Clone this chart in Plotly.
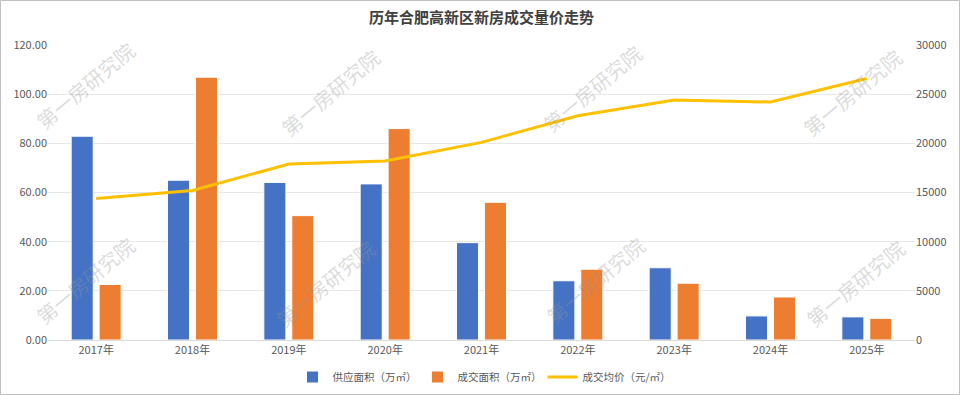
import plotly.graph_objects as go

years = ["2017年", "2018年", "2019年", "2020年", "2021年", "2022年", "2023年", "2024年", "2025年"]
supply = [82.9, 65.0, 64.1, 63.5, 39.6, 24.1, 29.4, 9.8, 9.4]
sold = [22.6, 106.9, 50.6, 86.0, 56.0, 28.8, 23.1, 17.5, 8.8]
price = [14400, 15200, 17900, 18200, 20100, 22800, 24400, 24200, 26600]

left_ticks = [0, 20, 40, 60, 80, 100, 120]
right_ticks = [0, 5000, 10000, 15000, 20000, 25000, 30000]

FONT = "Noto Sans CJK SC, Roboto, Arial, sans-serif"
GREY = "#595959"

L, R, T, B = 48, 45, 45, 55
PW, PH = 960 - L - R, 395 - T - B

def px2paper(px, py):
    return (px - L) / PW, (395 - B - py) / PH

fig = go.Figure()
fig.add_trace(go.Bar(x=years, y=supply, name="供应面积（万㎡）", marker=dict(color="#4472C4", line=dict(color="white", width=1))))
fig.add_trace(go.Bar(x=years, y=sold, name="成交面积（万㎡）", marker=dict(color="#ED7D31", line=dict(color="white", width=1))))
fig.add_trace(go.Scatter(x=years, y=price, name="成交均价（元/㎡）", mode="lines", yaxis="y2",
                         line=dict(color="#FFC000", width=3)))

wm = [(85, 85), (85, 280), (330, 92), (325, 283), (592, 88), (595, 280), (852, 92), (855, 283)]
annos = []
for (px, py) in wm:
    ax, ay = px2paper(px, py)
    annos.append(dict(text="第一房研究院", x=ax, y=ay, xref="paper", yref="paper",
                      showarrow=False, textangle=-40, font=dict(size=20, color="rgba(150,150,150,0.35)", family=FONT),
                      xanchor="center", yanchor="middle"))

x0, y0 = px2paper(0.5, 394.5)
x1, y1 = px2paper(959.5, 0.5)

fig.update_layout(
    template="none",
    width=960, height=395, autosize=False,
    margin=dict(l=L, r=R, t=T, b=B),
    paper_bgcolor="white", plot_bgcolor="white",
    title=dict(text="<b>历年合肥高新区新房成交量价走势</b>", x=0.5, y=1 - 18 / 395, xref="paper", yref="container",
               xanchor="center", yanchor="middle",
               font=dict(size=15, color="#404040", family=FONT)),
    font=dict(family=FONT, color=GREY, size=11),
    barmode="group", bargap=0.42, bargroupgap=0.21,
    xaxis=dict(showgrid=False, showline=True, linecolor="#D9D9D9", linewidth=1, ticks="", automargin=False,
               tickfont=dict(size=11, color=GREY)),
    yaxis=dict(range=[0, 120], tickvals=left_ticks, tickformat=".2f", showgrid=True, gridcolor="#E7E7E7", gridwidth=1,
               zeroline=False, showline=False, tickfont=dict(size=11, color=GREY), ticks="", automargin=False),
    yaxis2=dict(range=[0, 30000], tickvals=right_ticks, overlaying="y", side="right", showgrid=False,
                zeroline=False, showline=False, tickfont=dict(size=11, color=GREY), tickformat="d", ticks="",
                automargin=False),
    showlegend=True,
    legend=dict(orientation="h", x=0.5, xanchor="center", xref="container", y=1 - 377 / 395, yanchor="middle",
                yref="container", font=dict(size=10.5, color=GREY), itemwidth=30, entrywidth=80,
                bgcolor="rgba(0,0,0,0)"),
    annotations=annos,
    shapes=[dict(type="rect", xref="paper", yref="paper", x0=x0, x1=x1, y0=y0, y1=y1,
                 line=dict(color="#BFBFBF", width=1), layer="below")],
)

post = (
    "document.documentElement.style.margin='0';document.documentElement.style.overflow='hidden';"
    "document.body.style.margin='0';document.body.style.overflow='hidden';"
)

fig.write_html("out.html", config={"displayModeBar": False, "responsive": False}, post_script=post)
